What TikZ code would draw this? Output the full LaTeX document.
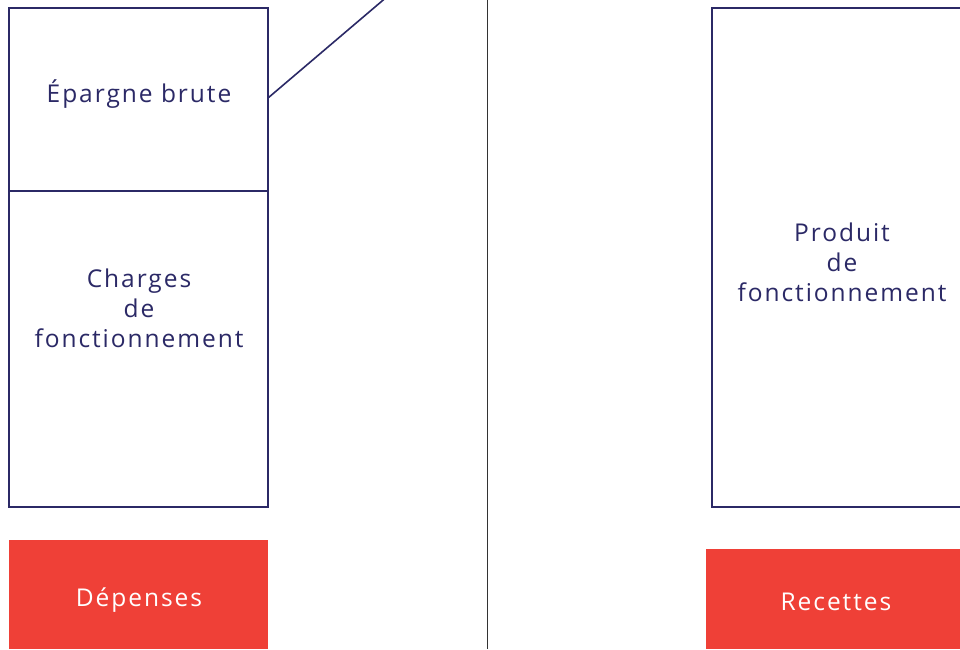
\documentclass[tikz,border=0pt]{standalone}
\usepackage{fontspec}
\setmainfont[LetterSpace=8]{Open Sans}
\definecolor{navy}{HTML}{2B2966}
\definecolor{redbox}{HTML}{EF4037}
\definecolor{divider}{HTML}{333333}
\begin{document}
\begin{tikzpicture}[x=1pt,y=-1pt,
  outline/.style={draw=navy,line width=1.1pt,fill=white},
  label/.style={text=navy,font=\fontsize{24.5}{30}\selectfont,align=center,inner sep=0pt},
  redlabel/.style={text=white,font=\fontsize{24.5}{30}\selectfont,align=center,inner sep=0pt},
  connector/.style={draw=navy,line width=1.6pt}]
\useasboundingbox (0,0) rectangle (960,649);
\fill[white] (0,0) rectangle (960,649);
% divider
\draw[divider,line width=1pt] (487,0) -- (487,649);
% left boxes
\draw[outline] (9,8) rectangle (268,191);
\draw[outline] (9,191) rectangle (268,507);
\node[label] (epargne) at (139,94) {Épargne brute};
\node[label] (charges) at (139,308) {Charges\\de\\fonctionnement};
\coordinate (epargneR) at (268,98);
\coordinate (lineEnd) at (388.5,-4.5);
\draw[connector] (epargneR) -- (lineEnd);
% right box
\draw[outline] (712,8) rectangle (975,507);
\node[label] (produit) at (842,262) {Produit\\de\\fonctionnement};
% red boxes
\fill[redbox] (9,540) rectangle (268,649);
\node[redlabel] (depenses) at (139,600) {Dépenses};
\fill[redbox] (706,549) rectangle (960,649);
\node[redlabel] (recettes) at (836,602) {Recettes};
\end{tikzpicture}
\end{document}
